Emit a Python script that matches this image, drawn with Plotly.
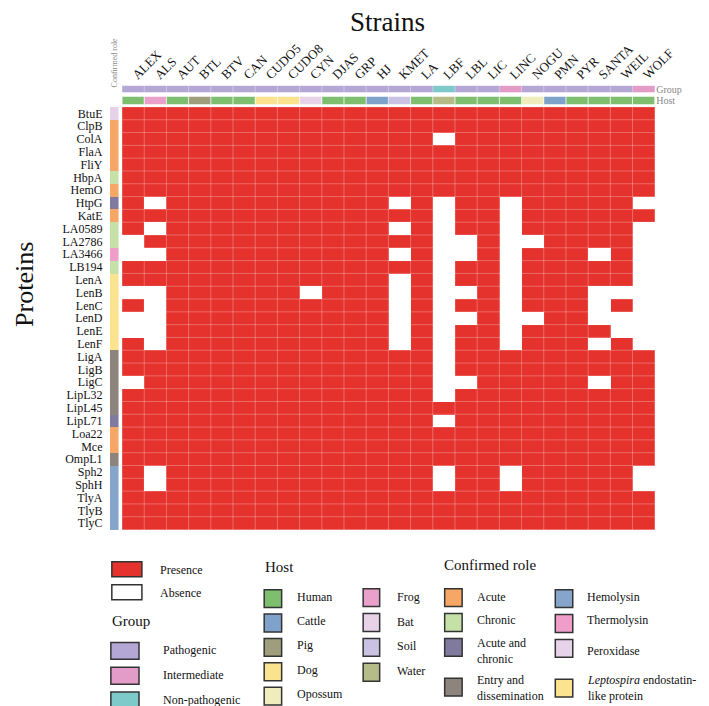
import plotly.graph_objects as go

# data
strains = ['ALEX', 'ALS', 'AUT', 'BTL', 'BTV', 'CAN', 'CUDO5', 'CUDO8', 'CYN', 'DJAS', 'GRP', 'HJ',
           'KMET', 'LA', 'LBF', 'LBL', 'LIC', 'LINC', 'NOGU', 'PMN', 'PYR', 'SANTA', 'WEIL', 'WOLF']
proteins = ['BtuE', 'ClpB', 'ColA', 'FlaA', 'FliY', 'HbpA', 'HemO', 'HtpG', 'KatE', 'LA0589',
            'LA2786', 'LA3466', 'LB194', 'LenA', 'LenB', 'LenC', 'LenD', 'LenE', 'LenF', 'LigA',
            'LigB', 'LigC', 'LipL32', 'LipL45', 'LipL71', 'Loa22', 'Mce', 'OmpL1', 'Sph2', 'SphH',
            'TlyA', 'TlyB', 'TlyC']

# proteins absent in each strain (everything else is present)
absent = {
    'ALEX': ['LA2786', 'LA3466', 'LenB', 'LenD', 'LenE', 'LigC'],
    'ALS': ['HtpG', 'LA0589', 'LA3466', 'LenB', 'LenC', 'LenD', 'LenE', 'LenF', 'Sph2', 'SphH'],
    'CYN': ['LenB'],
    'KMET': ['HtpG', 'LA0589', 'LA3466', 'LenA', 'LenB', 'LenC', 'LenD', 'LenE', 'LenF'],
    'LBF': ['ColA', 'HtpG', 'KatE', 'LA0589', 'LA2786', 'LA3466', 'LB194', 'LenA', 'LenB', 'LenC',
            'LenD', 'LenE', 'LenF', 'LigA', 'LigB', 'LigC', 'LipL32', 'LipL71', 'Sph2', 'SphH'],
    'LBL': ['LA2786', 'LA3466', 'LenB', 'LenD', 'LigC'],
    'LINC': ['HtpG', 'KatE', 'LA0589', 'LA2786', 'LA3466', 'LB194', 'LenA', 'LenB', 'LenC', 'LenD',
             'LenE', 'LenF', 'Sph2', 'SphH'],
    'NOGU': ['LA2786', 'LenD'],
    'SANTA': ['LA3466', 'LenB', 'LenC', 'LenD', 'LenF', 'LigC'],
    'WEIL': ['LenB', 'LenD', 'LenE'],
    'WOLF': ['HtpG', 'LA0589', 'LA2786', 'LA3466', 'LB194', 'LenA', 'LenB', 'LenC', 'LenD', 'LenE',
             'LenF', 'Sph2', 'SphH'],
}

group_names = ['Pathogenic', 'Intermediate', 'Non-pathogenic']
group_colors = ['#B4A7D6', '#E39BC8', '#7ECACB']
strain_group = ['Pathogenic'] * 14 + ['Non-pathogenic', 'Pathogenic', 'Pathogenic', 'Intermediate'] + \
               ['Pathogenic'] * 5 + ['Intermediate']

host_names = ['Human', 'Cattle', 'Pig', 'Dog', 'Opossum', 'Frog', 'Bat', 'Soil', 'Water']
host_colors = ['#7DBF6F', '#7FA2CB', '#9E9E7C', '#FBE28E', '#EEEDBB', '#E9A0CA', '#E8D2E8', '#CAC2E2', '#B5BC87']
strain_host = ['Human', 'Frog', 'Human', 'Pig', 'Human', 'Human', 'Dog', 'Dog', 'Bat', 'Human', 'Human',
               'Cattle', 'Soil', 'Human', 'Water', 'Human', 'Human', 'Human', 'Opossum', 'Cattle',
               'Human', 'Human', 'Human', 'Human']

role_names = ['Acute', 'Chronic', 'Acute and chronic', 'Entry and dissemination',
              'Hemolysin', 'Thermolysin', 'Peroxidase', 'Leptospira endostatin-like protein']
role_labels = ['Acute', 'Chronic', 'Acute and<br>chronic', 'Entry and<br>dissemination',
               'Hemolysin', 'Thermolysin', 'Peroxidase', '<i>Leptospira</i> endostatin-<br>like protein']
role_colors = ['#F6A765', '#C6E1A7', '#807A9F', '#8D847E', '#86A5CB', '#EE9EC8', '#E6D3E9', '#FCE38F']
protein_role = ['Peroxidase', 'Acute', 'Acute', 'Acute', 'Acute', 'Chronic', 'Acute', 'Acute and chronic',
                'Acute', 'Chronic', 'Chronic', 'Thermolysin', 'Chronic'] + \
               ['Leptospira endostatin-like protein'] * 6 + ['Entry and dissemination'] * 5 + \
               ['Acute and chronic', 'Acute', 'Acute', 'Entry and dissemination'] + ['Hemolysin'] * 5

pa_labels = ['Presence', 'Absence']
pa_colors = ['#E5322D', '#FFFFFF']

SERIF = 'Liberation Serif, Times New Roman, serif'
W, H = 709, 706


def fx(px):
    return px / W


def fy(py):
    return 1 - py / H


def discrete_scale(colors):
    n = len(colors)
    scale = []
    for i, c in enumerate(colors):
        scale.append([i / n, c])
        scale.append([(i + 1) / n, c])
    return scale


# presence matrix
z = [[0 if p in absent.get(s, []) else 1 for s in strains] for p in proteins]
z_group = [[group_names.index(g) for g in strain_group]]
z_host = [[host_names.index(h) for h in strain_host]]
z_role = [[role_names.index(r)] for r in protein_role]

fig = go.Figure()
fig.add_trace(go.Heatmap(z=z, x=strains, y=proteins, zmin=0, zmax=1,
                         colorscale=[[0, pa_colors[1]], [1, pa_colors[0]]],
                         showscale=False, hoverinfo='x+y', xaxis='x', yaxis='y'))
fig.add_trace(go.Heatmap(z=z_group, x=strains, y=['Group'], zmin=-0.5, zmax=len(group_names) - 0.5,
                         colorscale=discrete_scale(group_colors), showscale=False, xaxis='x2', yaxis='y2'))
fig.add_trace(go.Heatmap(z=z_host, x=strains, y=['Host'], zmin=-0.5, zmax=len(host_names) - 0.5,
                         colorscale=discrete_scale(host_colors), showscale=False, xaxis='x3', yaxis='y3'))
fig.add_trace(go.Heatmap(z=z_role, x=['Confirmed role'], y=proteins, zmin=-0.5, zmax=len(role_names) - 0.5,
                         colorscale=discrete_scale(role_colors), showscale=False, xaxis='x4', yaxis='y4'))

xdom = [fx(117), fx(667)]
ydom = [fy(523), fy(97)]
plain = dict(type='category', showgrid=False, zeroline=False, showline=False)

fig.update_layout(
    width=W, height=H, margin=dict(l=0, r=0, t=0, b=0),
    paper_bgcolor='white', plot_bgcolor='white',
    font=dict(family=SERIF, color='#111'),
    xaxis=dict(domain=xdom, anchor='y', showticklabels=False, ticks='', **plain),
    yaxis=dict(domain=ydom, anchor='x', autorange='reversed', showticklabels=False, ticks='', **plain),
    xaxis2=dict(domain=xdom, anchor='y2', matches='x', side='top', tickangle=-45, ticks='',
                tickmode='array', tickvals=strains, tickfont=dict(size=13, family=SERIF), **plain),
    yaxis2=dict(domain=[fy(83), fy(76)], anchor='x2', side='right', ticks='',
                tickfont=dict(size=10, color='#888', family=SERIF), **plain),
    xaxis3=dict(domain=xdom, anchor='y3', matches='x', showticklabels=False, ticks='', **plain),
    yaxis3=dict(domain=[fy(95), fy(87)], anchor='x3', side='right', ticks='',
                tickfont=dict(size=10, color='#888', family=SERIF), **plain),
    xaxis4=dict(domain=[fx(105), fx(114)], anchor='y4', showticklabels=False, ticks='', **plain),
    yaxis4=dict(domain=ydom, anchor='x4', matches='y', tickmode='array', tickvals=proteins,
                ticks='outside', ticklen=4, tickcolor='rgba(0,0,0,0)',
                tickfont=dict(size=12, family=SERIF), **plain),
)

annotations = [
    dict(text='Strains', x=fx(391), y=fy(12), font=dict(size=27)),
    dict(text='Proteins', x=fx(17), y=fy(276), textangle=-90, font=dict(size=26)),
    dict(text='Confirmed role', x=fx(110), y=fy(53), textangle=-90, font=dict(size=8, color='#888')),
]
shapes = []

# light cell borders on the heatmap and the host / group strips
for i in range(len(strains) + 1):
    shapes.append(dict(type='line', xref='x', yref='paper', x0=i - 0.5, x1=i - 0.5,
                       y0=ydom[0], y1=ydom[1], line=dict(color='rgba(255,255,255,0.28)', width=1)))
    for ax, dom, alpha in (('x2', [fy(83), fy(76)], 0.35), ('x3', [fy(95), fy(87)], 0.8)):
        shapes.append(dict(type='line', xref=ax, yref='paper', x0=i - 0.5, x1=i - 0.5,
                           y0=dom[0], y1=dom[1], line=dict(color='rgba(255,255,255,%s)' % alpha, width=1)))
for j in range(len(proteins) + 1):
    shapes.append(dict(type='line', xref='paper', yref='y', x0=xdom[0], x1=xdom[1], y0=j - 0.5, y1=j - 0.5,
                       line=dict(color='rgba(255,255,255,0.28)', width=1)))


def legend_item(x0, y0, w, h, color, label, tx, ty):
    shapes.append(dict(type='rect', xref='paper', yref='paper', x0=fx(x0), x1=fx(x0 + w),
                       y0=fy(y0 + h), y1=fy(y0), fillcolor=color, line=dict(color='#333', width=1.5)))
    annotations.append(dict(text=label, x=fx(tx), y=fy(ty), xanchor='left', font=dict(size=12)))


# presence / absence
for i, (lab, col) in enumerate(zip(pa_labels, pa_colors)):
    legend_item(107, 555 + 23 * i, 31, 15, col, lab, 155, 563 + 23 * i)

# group
annotations.append(dict(text='Group', x=fx(105), y=fy(614), xanchor='left', font=dict(size=15)))
for i, (lab, col) in enumerate(zip(group_names, group_colors)):
    legend_item(106, 636 + 25 * i, 29, 17, col, lab, 158, 644 + 25 * i)

# host
annotations.append(dict(text='Host', x=fx(263), y=fy(560), xanchor='left', font=dict(size=15)))
for i, (lab, col) in enumerate(zip(host_names, host_colors)):
    if i < 5:
        legend_item(264, 583 + 24.5 * i, 18, 18, col, lab, 296, 590 + 24.5 * i)
    else:
        j = i - 5
        legend_item(366, 582 + 25 * j, 17, 18, col, lab, 399, 590 + 25 * j)

# confirmed role
annotations.append(dict(text='Confirmed role', x=fx(447), y=fy(558), xanchor='left', font=dict(size=15)))
role_y = [582, 607, 632, 672]
role_ty = [590, 613, 645, 682]
for i, (lab, col) in enumerate(zip(role_labels, role_colors)):
    k = i % 4
    if i < 4:
        legend_item(450, role_y[k], 18, 18, col, lab, 481, role_ty[k])
    else:
        legend_item(564, role_y[k] + 1, 18, 18, col, lab, 595, role_ty[k])

for a in annotations:
    a.setdefault('xref', 'paper')
    a.setdefault('yref', 'paper')
    a.setdefault('xanchor', 'center')
    a.setdefault('yanchor', 'middle')
    a.setdefault('showarrow', False)
    a.setdefault('align', 'left')

fig.update_layout(annotations=annotations, shapes=shapes)
fig.write_html('out.html')
